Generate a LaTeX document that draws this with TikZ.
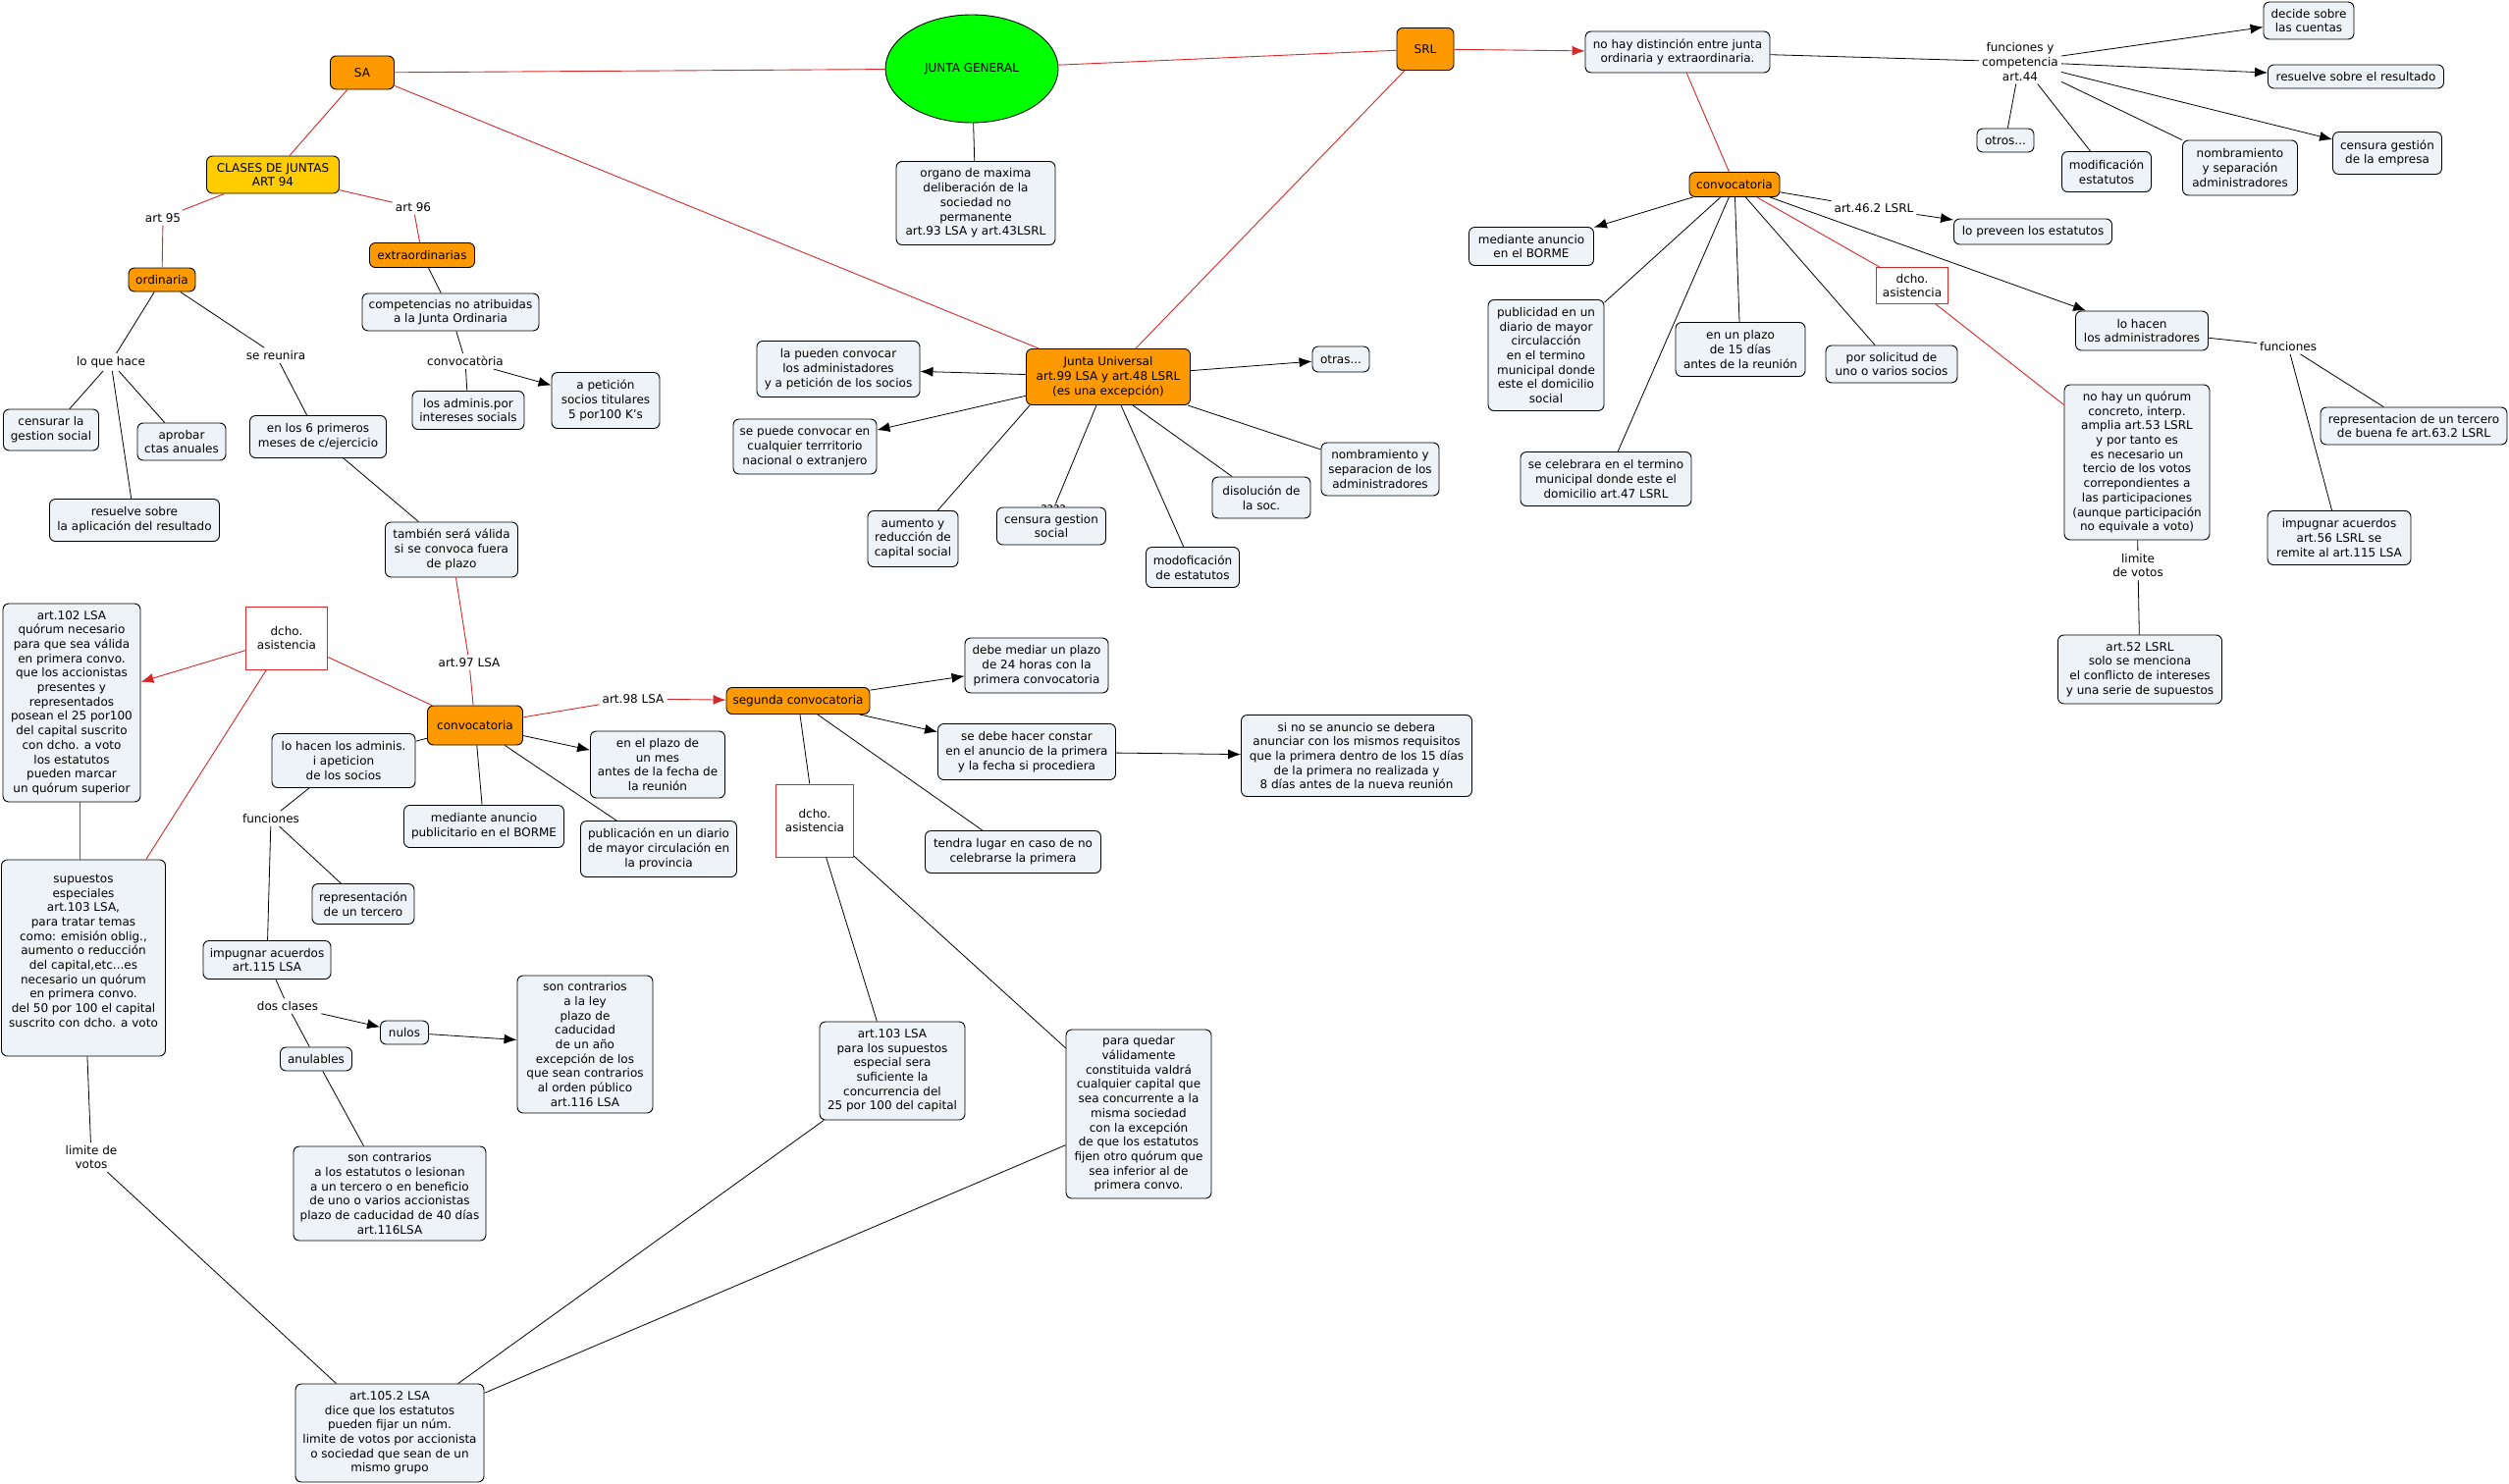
\documentclass[tikz,border=0pt]{standalone}
\usepackage{fontspec}
\setmainfont{DejaVu Sans}
\usetikzlibrary{shapes.geometric,arrows.meta}
\definecolor{boxfill}{RGB}{237,243,246}
\definecolor{orng}{RGB}{255,153,0}
\definecolor{yel}{RGB}{255,204,0}
\definecolor{jgreen}{RGB}{0,255,0}
\definecolor{redc}{RGB}{214,40,40}
\newcommand\mapfont{\fontsize{12}{14.7}\selectfont}
\tikzset{
  bx/.style={draw=black, line width=0.9pt, rounded corners=6pt, fill=boxfill, align=center, inner sep=2pt, font=\mapfont},
  ob/.style={bx, fill=orng},
  yb/.style={bx, fill=yel},
  rb/.style={draw=redc, line width=0.9pt, fill=white, align=center, inner sep=2pt, font=\mapfont},
  lab/.style={align=center, inner sep=3pt, font=\mapfont},
  ln/.style={draw=black, line width=0.8pt},
  rl/.style={draw=redc, line width=0.9pt},
  ar/.style={ln, -{Latex[length=13pt,width=10pt]}},
  rar/.style={rl, -{Latex[length=13pt,width=10pt]}},
}
\begin{document}
\begin{tikzpicture}[x=1pt,y=-1pt]
\useasboundingbox (0,0) rectangle (2556,1512);
\fill[white] (0,0) rectangle (2556,1512);
% ---- top centre
\node[ellipse, draw=black, line width=0.9pt, fill=jgreen, minimum width=176pt, minimum height=110pt, font=\mapfont] (JG) at (990,70) {JUNTA GENERAL};
\node[bx, minimum width=162pt, minimum height=85pt] (organo) at (994,207) {organo de maxima\\deliberación de la\\sociedad no\\permanente\\art.93 LSA y art.43LSRL};
\node[ob, minimum width=65pt, minimum height=34pt] (SA) at (369,74) {SA};
\node[ob, minimum width=58pt, minimum height=43pt] (SRL) at (1452,50) {SRL};
\node[bx, minimum width=188pt, minimum height=42pt] (nohay) at (1709,53) {no hay distinción entre junta\\ordinaria y extraordinaria.};
% ---- SA branch
\node[yb, minimum width=135pt, minimum height=38pt] (clases) at (278,178) {CLASES DE JUNTAS\\ART 94};
\node[lab] (art95) at (166,222) {art 95};
\node[lab] (art96) at (421,211) {art 96};
\node[ob, minimum width=68pt, minimum height=24pt] (ordin) at (165,285) {ordinaria};
\node[ob, minimum width=107pt, minimum height=25pt] (extra) at (430,260) {extraordinarias};
\node[bx, minimum width=180pt, minimum height=38pt] (compet) at (459,318) {competencias no atribuidas\\a la Junta Ordinaria};
\node[lab] (convlab) at (474,368) {convocatòria};
\node[bx, minimum width=114pt, minimum height=39pt] (adminis) at (477,418) {los adminis.por\\intereses socials};
\node[bx, minimum width=110pt, minimum height=57pt] (peticion) at (617,408) {a petición\\socios titulares\\5 por100 K's};
\node[lab] (loque) at (113,369) {lo que hace};
\node[lab] (sereun) at (281,362) {se reunira};
\node[bx, minimum width=97pt, minimum height=42pt] (censurar) at (52,438) {censurar la\\gestion social};
\node[bx, minimum width=90pt, minimum height=38pt] (aprobar) at (185,450) {aprobar\\ctas anuales};
\node[bx, minimum width=173pt, minimum height=43pt] (resuelveA) at (137,530) {resuelve sobre\\la aplicación del resultado};
\node[bx, minimum width=139pt, minimum height=43pt] (seismeses) at (324,445) {en los 6 primeros\\meses de c/ejercicio};
\node[bx, minimum width=135pt, minimum height=56pt] (tambien) at (460,560) {también será válida\\si se convoca fuera\\de plazo};
% ---- Junta Universal
\node[ob, minimum width=167pt, minimum height=57pt] (JU) at (1129,384) {Junta Universal\\art.99 LSA y art.48 LSRL\\(es una excepción)};
\node[bx, minimum width=166pt, minimum height=57pt] (pueden) at (854,376) {la pueden convocar\\los administadores\\y a petición de los socios};
\node[bx, minimum width=146pt, minimum height=56pt] (territ) at (820,455) {se puede convocar en\\cualquier terrritorio\\nacional o extranjero};
\node[bx, minimum width=58pt, minimum height=26pt] (otras) at (1366,366) {otras...};
\node[bx, minimum width=120pt, minimum height=54pt] (nombJU) at (1406,478) {nombramiento y\\separacion de los\\administradores};
\node[bx, minimum width=100pt, minimum height=42pt] (disol) at (1285,507) {disolución de\\la soc.};
\node[bx, minimum width=95pt, minimum height=41pt] (modof) at (1215,578) {modoficación\\de estatutos};
\node[lab, inner sep=1pt] (qmark) at (1073,519) {????};
\node[bx, minimum width=111pt, minimum height=38pt] (censJU) at (1071,536) {censura gestion\\social};
\node[bx, minimum width=92pt, minimum height=57pt] (aumento) at (930,549) {aumento y\\reducción de\\capital social};
% ---- SRL branch
\node[ob, minimum width=92pt, minimum height=25pt] (convSRL) at (1767,188) {convocatoria};
\node[lab] (art462) at (1909,212) {art.46.2 LSRL};
\node[bx, minimum width=127pt, minimum height=39pt] (borme) at (1560,251) {mediante anuncio\\en el BORME};
\node[bx, minimum width=118pt, minimum height=113pt] (publi) at (1575,362) {publicidad en un\\diario de mayor\\circulacción\\en el termino\\municipal donde\\este el domicilio\\social};
\node[bx, minimum width=132pt, minimum height=55pt] (plazo15) at (1773,356) {en un plazo\\de 15 días\\antes de la reunión};
\node[bx, minimum width=134pt, minimum height=38pt] (solicitud) at (1927,371) {por solicitud de\\uno o varios socios};
\node[bx, minimum width=174pt, minimum height=55pt] (celebrara) at (1636,488) {se celebrara en el termino\\municipal donde este el\\domicilio art.47 LSRL};
\node[rb, minimum width=73pt, minimum height=37pt] (dchoR) at (1948,291) {dcho.\\asistencia};
\node[lab] (func44) at (2058,63) {funciones y\\competencia\\art.44};
\node[bx, minimum width=92pt, minimum height=38pt] (decide) at (2352,21) {decide sobre\\las cuentas};
\node[bx, minimum width=179pt, minimum height=24pt] (resultado) at (2400,78) {resuelve sobre el resultado};
\node[bx, minimum width=58pt, minimum height=24pt] (otros) at (2043,143) {otros...};
\node[bx, minimum width=91pt, minimum height=41pt] (modif) at (2146,175) {modificación\\estatutos};
\node[bx, minimum width=117pt, minimum height=56pt] (nombR) at (2282,171) {nombramiento\\y separación\\administradores};
\node[bx, minimum width=111pt, minimum height=43pt] (censR) at (2432,156) {censura gestión\\de la empresa};
\node[bx, minimum width=161pt, minimum height=26pt] (preveen) at (2071,236) {lo preveen los estatutos};
\node[bx, minimum width=135pt, minimum height=40pt] (lohacen) at (2182,337) {lo hacen\\los administradores};
\node[lab] (funcR) at (2331,353) {funciones};
\node[bx, minimum width=190pt, minimum height=38pt] (repR) at (2459,434) {representacion de un tercero\\de buena fe art.63.2 LSRL};
\node[bx, minimum width=146pt, minimum height=55pt] (impR) at (2383,548) {impugnar acuerdos\\art.56 LSRL se\\remite al art.115 LSA};
\node[bx, minimum width=148pt, minimum height=158pt] (quorum) at (2177,471) {no hay un quórum\\concreto, interp.\\amplia art.53 LSRL\\y por tanto es\\es necesario un\\tercio de los votos\\correpondientes a\\las participaciones\\(aunque participación\\no equivale a voto)};
\node[lab] (limR) at (2178,576) {limite\\de votos};
\node[bx, minimum width=167pt, minimum height=70pt] (art52) at (2180,682) {art.52 LSRL\\solo se menciona\\el conflicto de intereses\\y una serie de supuestos};
% ---- lower left
\node[bx, minimum width=140pt, minimum height=202pt] (art102) at (73,716) {art.102 LSA\\quórum necesario\\para que sea válida\\en primera convo.\\que los accionistas\\presentes y\\representados\\posean el 25 por100\\del capital suscrito\\con dcho. a voto\\los estatutos\\pueden marcar\\un quórum superior};
\node[rb, minimum width=83pt, minimum height=64pt] (dchoL) at (292,650) {dcho.\\asistencia};
\node[lab] (art97) at (478,675) {art.97 LSA};
\node[ob, minimum width=97pt, minimum height=40pt] (convSA) at (484,739) {convocatoria};
\node[lab] (art98) at (645,712) {art.98 LSA};
\node[ob, minimum width=146pt, minimum height=27pt] (segunda) at (813,714) {segunda convocatoria};
\node[bx, minimum width=137pt, minimum height=68pt] (plazomes) at (670,779) {en el plazo de\\un mes\\antes de la fecha de\\la reunión};
\node[bx, minimum width=146pt, minimum height=55pt] (admsoc) at (350,775) {lo hacen los adminis.\\i apeticion\\de los socios};
\node[lab] (funcL) at (276,834) {funciones};
\node[bx, minimum width=163pt, minimum height=43pt] (bormeL) at (493,842) {mediante anuncio\\publicitario en el BORME};
\node[bx, minimum width=159pt, minimum height=57pt] (diario) at (671,865) {publicación en un diario\\de mayor circulación en\\la provincia};
\node[bx, minimum width=104pt, minimum height=41pt] (repL) at (370,921) {representación\\de un tercero};
\node[bx, minimum width=130pt, minimum height=39pt] (imp115) at (272,978) {impugnar acuerdos\\art.115 LSA};
\node[bx, minimum width=167pt, minimum height=200pt] (supuestos) at (85,976) {supuestos\\especiales\\art.103 LSA,\\para tratar temas\\como: emisión oblig.,\\aumento o reducción\\del capital,etc...es\\necesario un quórum\\en primera convo.\\del 50 por 100 el capital\\suscrito con dcho. a voto\\~};
\node[lab] (dosclases) at (293,1025) {dos clases};
\node[bx, minimum width=49pt, minimum height=24pt] (nulos) at (412,1052) {nulos};
\node[bx, minimum width=73pt, minimum height=24pt] (anulables) at (322,1079) {anulables};
\node[bx, minimum width=138pt, minimum height=140pt] (contrLey) at (596,1064) {son contrarios\\a la ley\\plazo de\\caducidad\\de un año\\excepción de los\\que sean contrarios\\al orden público\\art.116 LSA};
\node[bx, minimum width=196pt, minimum height=96pt] (contrEst) at (397,1216) {son contrarios\\a los estatutos o lesionan\\a un tercero o en beneficio\\de uno o varios accionistas\\plazo de caducidad de 40 días\\art.116LSA};
\node[lab] (limL) at (93,1179) {limite de\\votos};
\node[bx, minimum width=192pt, minimum height=100pt] (art1052) at (397,1460) {art.105.2 LSA\\dice que los estatutos\\pueden fijar un núm.\\limite de votos por accionista\\o sociedad que sean de un\\mismo grupo};
% ---- segunda convocatoria branch
\node[bx, minimum width=146pt, minimum height=56pt] (debe) at (1056,678) {debe mediar un plazo\\de 24 horas con la\\primera convocatoria};
\node[bx, minimum width=181pt, minimum height=57pt] (constar) at (1046,766) {se debe hacer constar\\en el anuncio de la primera\\y la fecha si procediera};
\node[bx, minimum width=235pt, minimum height=83pt] (sinose) at (1382,770) {si no se anuncio se debera\\anunciar con los mismos requisitos\\que la primera dentro de los 15 días\\de la primera no realizada y\\8 días antes de la nueva reunión};
\node[rb, minimum width=79pt, minimum height=74pt] (dchoM) at (830,836) {dcho.\\asistencia};
\node[bx, minimum width=179pt, minimum height=43pt] (tendra) at (1032,868) {tendra lugar en caso de no\\celebrarse la primera};
\node[bx, minimum width=148pt, minimum height=100pt] (art103) at (909,1091) {art.103 LSA\\para los supuestos\\especial sera\\suficiente la\\concurrencia del\\25 por 100 del capital};
\node[bx, minimum width=148pt, minimum height=172pt] (quedar) at (1160,1135) {para quedar\\válidamente\\constituida valdrá\\cualquier capital que\\sea concurrente a la\\misma sociedad\\con la excepción\\de que los estatutos\\fijen otro quórum que\\sea inferior al de\\primera convo.};
% ================= connectors
% red
\draw[rl] (SA) -- (JG);
\draw[rl] (JG) -- (SRL);
\draw[rl] (SA) -- (clases);
\draw[rl] (clases) -- (art95);
\draw[rl] (art95) -- (ordin);
\draw[rl] (clases) -- (art96);
\draw[rl] (art96) -- (extra);
\draw[rl] (SA) -- (JU);
\draw[rl] (SRL) -- (JU);
\draw[rar] (SRL) -- (nohay);
\draw[rl] (nohay) -- (convSRL);
\draw[rl] (convSRL) -- (dchoR);
\draw[rl] (dchoR) -- (quorum);
\draw[rl] (tambien) -- (art97);
\draw[rl] (art97) -- (convSA);
\draw[rl] (convSA) -- (dchoL);
\draw[rar] (dchoL) -- (art102);
\draw[rl] (dchoL) -- (supuestos);
\draw[rl] ([xshift=8pt]art102.south) -- ([xshift=-4pt]supuestos.north);
\draw[rl] (convSA) -- (art98);
\draw[rar] (art98) -- (segunda);
% black
\draw[ln] (JG) -- (organo);
\draw[ln] (ordin) -- (loque);
\draw[ln] (loque) -- (censurar);
\draw[ln] (loque) -- (aprobar);
\draw[ln] (loque) -- (resuelveA);
\draw[ln] (ordin) -- (sereun);
\draw[ln] (sereun) -- (seismeses);
\draw[ln] (seismeses) -- (tambien);
\draw[ln] (extra) -- (compet);
\draw[ln] (compet) -- (convlab);
\draw[ln] (convlab) -- (adminis);
\draw[ar] (convlab) -- (peticion);
\draw[ar] (JU) -- (pueden);
\draw[ar] (JU) -- (territ);
\draw[ar] (JU) -- (otras);
\draw[ln] ([xshift=4pt]JU.south west) -- (aumento);
\draw[ln] ([xshift=-12pt]JU.south) -- (qmark);
\draw[ln] ([xshift=13pt]JU.south) -- (modof);
\draw[ln] ([xshift=25pt]JU.south) -- (disol);
\draw[ln] ([xshift=-3pt]JU.south east) -- (nombJU);
\draw[ln] (nohay) -- (func44);
\draw[ar] (func44) -- (decide);
\draw[ar] (func44) -- (resultado);
\draw[ar] (func44) -- (censR);
\draw[ln] (func44) -- (nombR);
\draw[ln] (func44) -- (modif);
\draw[ln] (func44) -- (otros);
\draw[ar] (convSRL) -- (borme);
\draw[ln] (convSRL) -- (publi);
\draw[ln] (convSRL) -- (celebrara);
\draw[ln] (convSRL) -- (plazo15);
\draw[ln] (convSRL) -- (solicitud);
\draw[ln] (convSRL) -- (art462);
\draw[ar] (art462) -- (preveen);
\draw[ar] (convSRL) -- (lohacen);
\draw[ln] (lohacen) -- (funcR);
\draw[ln] (funcR) -- (repR);
\draw[ln] (funcR) -- (impR);
\draw[ln] (quorum) -- (limR);
\draw[ln] (limR) -- (art52);
\draw[ln] (convSA) -- (admsoc);
\draw[ln] (admsoc) -- (funcL);
\draw[ln] (funcL) -- (repL);
\draw[ln] (funcL) -- (imp115);
\draw[ln] (imp115) -- (dosclases);
\draw[ar] (dosclases) -- (nulos);
\draw[ln] (dosclases) -- (anulables);
\draw[ln] (anulables) -- (contrEst);
\draw[ar] (nulos) -- (contrLey);
\draw[ar] (convSA) -- (plazomes);
\draw[ln] (convSA) -- (bormeL);
\draw[ln] (convSA) -- (diario);
\draw[ar] (segunda) -- (debe);
\draw[ar] (segunda) -- (constar);
\draw[ar] (constar) -- (sinose);
\draw[ln] (segunda) -- (dchoM);
\draw[ln] (segunda) -- (tendra);
\draw[ln] (dchoM) -- (art103);
\draw[ln] (dchoM) -- (quedar);
\draw[ln] (art103) -- (art1052);
\draw[ln] (quedar) -- (art1052);
\draw[ln] (supuestos) -- (limL);
\draw[ln] (limL) -- (art1052);
\end{tikzpicture}
\end{document}
